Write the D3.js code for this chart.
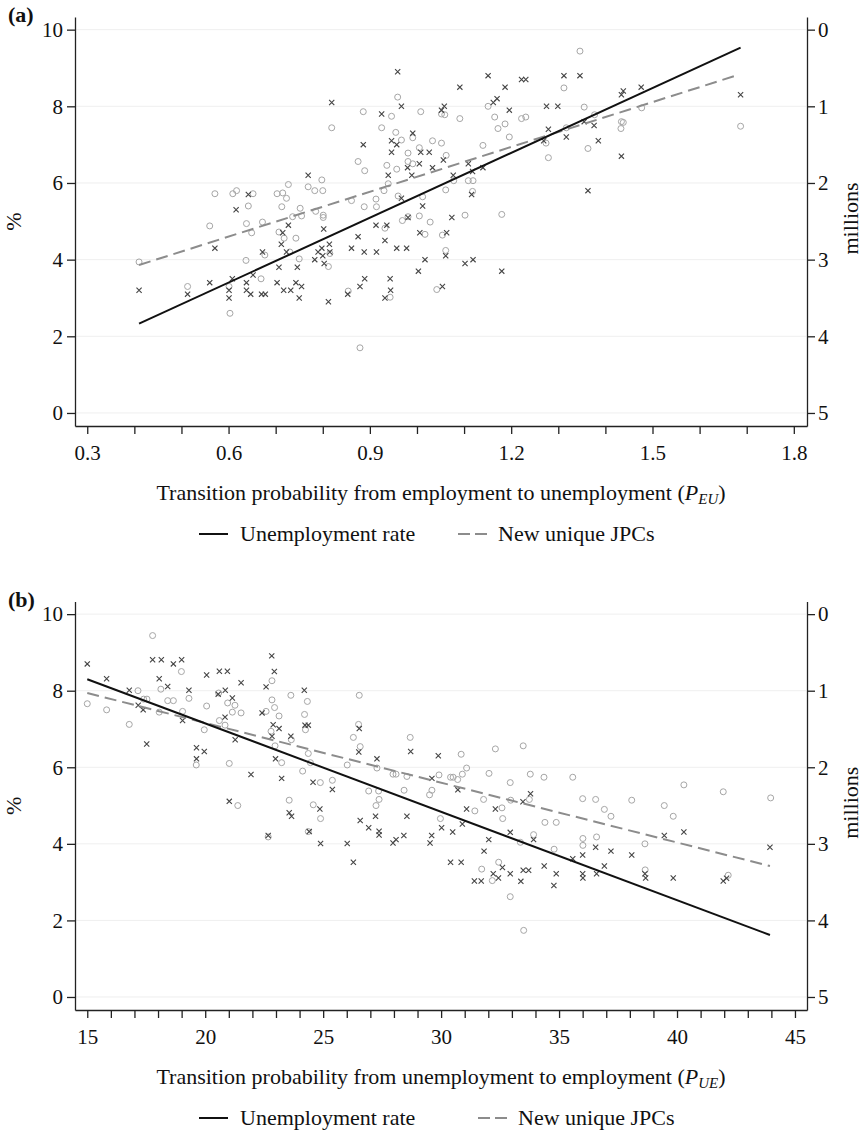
<!DOCTYPE html>
<html>
<head>
<meta charset="utf-8">
<script src="https://cdn.jsdelivr.net/npm/d3@7"></script>
<style>
  body { margin: 0; background: #fff; }
  svg text { font-family: "Liberation Serif", "Times New Roman", serif; fill: #111; }
</style>
</head>
<body>
<div class="chart"></div>
<script>
// Scatter of unemployment rate (%) and new unique JPCs (millions, inverted right axis)
// against transition probabilities, two panels

// Panel (a): x = P_EU, y = unemployment rate (%)
var aRate = [
  [0.410,3.2],[0.513,3.1],[0.560,3.4],[0.571,4.3],[0.601,3.2],[0.601,3.0],[0.608,3.5],[0.616,5.3],[0.638,3.4],[0.638,3.2],
  [0.642,5.7],[0.647,3.1],[0.652,3.6],[0.670,3.1],[0.678,3.1],[0.672,4.2],[0.703,3.4],[0.707,3.8],[0.712,4.4],[0.715,4.7],
  [0.717,3.2],[0.727,4.9],[0.732,3.2],[0.723,4.2],[0.743,3.4],[0.746,3.8],[0.750,3.0],[0.755,3.3],[0.769,6.2],[0.783,4.0],
  [0.790,4.2],[0.798,4.3],[0.800,4.1],[0.803,3.9],[0.802,4.8],[0.812,2.9],[0.814,4.4],[0.815,4.2],[0.819,8.1],[0.853,3.1],
  [0.861,4.3],[0.875,4.6],[0.879,3.3],[0.886,7.0],[0.888,4.2],[0.889,3.5],[0.913,4.9],[0.914,4.2],[0.925,7.8],[0.932,4.5],
  [0.932,3.0],[0.936,4.9],[0.939,6.2],[0.943,3.5],[0.944,3.2],[0.946,7.1],[0.946,6.8],[0.957,7.0],[0.957,4.3],[0.959,8.9],
  [0.967,8.0],[0.967,5.6],[0.978,4.3],[0.980,6.4],[0.981,5.1],[0.989,6.2],[0.991,7.3],[1.003,3.7],[1.005,6.5],[1.006,4.7],
  [1.008,6.8],[1.012,5.4],[1.017,4.0],[1.026,6.8],[1.033,6.4],[1.052,7.9],[1.054,3.3],[1.056,6.6],[1.058,8.0],[1.061,4.1],
  [1.063,4.7],[1.074,5.1],[1.077,6.2],[1.091,8.5],[1.102,3.9],[1.109,6.5],[1.116,5.7],[1.118,6.3],[1.119,4.0],[1.140,6.4],
  [1.151,8.8],[1.162,8.1],[1.170,8.2],[1.180,3.7],[1.187,8.5],[1.196,7.9],[1.222,8.7],[1.231,8.7],[1.269,7.1],[1.275,8.0],
  [1.279,7.4],[1.299,8.0],[1.312,8.8],[1.317,7.2],[1.346,8.8],[1.355,7.6],[1.363,5.8],[1.376,7.5],[1.385,7.1],[1.434,8.3],
  [1.438,8.4],[1.434,6.7],[1.476,8.5],[1.687,8.3]
];
// Panel (a): new unique JPCs (millions)
var aJpc = [
  [0.410,3.03],[0.513,3.35],[0.560,2.56],[0.571,2.14],[0.601,3.35],[0.603,3.70],[0.609,2.14],[0.617,2.10],[0.637,3.01],[0.638,2.53],
  [0.642,2.30],[0.649,2.65],[0.652,2.14],[0.669,3.25],[0.672,2.51],[0.677,2.94],[0.703,2.14],[0.707,2.64],[0.713,2.31],[0.715,2.13],
  [0.718,2.72],[0.723,2.20],[0.727,2.02],[0.730,2.90],[0.736,2.44],[0.743,2.72],[0.750,2.99],[0.752,2.33],[0.755,2.43],[0.769,2.05],
  [0.783,2.10],[0.785,2.37],[0.798,1.96],[0.800,2.10],[0.801,2.42],[0.801,2.45],[0.812,3.09],[0.815,2.92],[0.819,1.28],[0.854,3.41],
  [0.861,2.23],[0.875,1.72],[0.879,4.15],[0.886,1.07],[0.888,2.31],[0.889,1.84],[0.913,2.21],[0.914,2.31],[0.925,1.28],[0.930,2.10],
  [0.932,2.59],[0.936,1.77],[0.939,2.01],[0.943,3.49],[0.946,1.13],[0.955,1.34],[0.957,1.82],[0.959,0.88],[0.960,2.17],[0.967,1.44],
  [0.969,2.49],[0.981,1.61],[0.981,1.72],[0.981,2.44],[0.991,1.41],[0.991,1.75],[1.005,1.54],[1.005,2.43],[1.008,1.07],[1.012,2.18],
  [1.017,2.67],[1.028,2.51],[1.033,1.45],[1.042,3.39],[1.052,1.48],[1.052,1.10],[1.059,1.11],[1.054,2.68],[1.061,2.09],[1.061,2.88],
  [1.062,1.64],[1.078,1.97],[1.091,1.16],[1.102,2.42],[1.109,1.97],[1.118,2.11],[1.119,1.97],[1.140,1.51],[1.151,1.00],[1.165,1.14],
  [1.172,1.29],[1.180,2.41],[1.187,1.23],[1.196,1.40],[1.222,1.16],[1.231,1.14],[1.274,1.48],[1.279,1.67],[1.312,0.76],[1.317,1.28],
  [1.346,0.28],[1.355,1.01],[1.363,1.55],[1.377,1.11],[1.434,1.20],[1.438,1.21],[1.433,1.29],[1.477,1.02],[1.687,1.26]
];
// fitted lines, endpoints
var aRateLine = [[0.41,2.33],[1.687,9.53]];
var aJpcLine = [[0.41,3.07],[1.677,0.60]];

// Panel (b): x = P_UE
var bRate = [
  [15.00,8.70],[15.82,8.31],[16.78,8.01],[17.16,7.62],[17.37,7.50],[17.52,6.61],[17.77,8.81],[18.14,8.81],[18.05,8.31],[18.41,8.11],
  [18.65,8.70],[19.00,8.81],[19.04,7.22],[19.31,8.01],[19.63,6.51],[19.63,6.22],[19.96,6.41],[20.06,8.41],[20.55,7.91],[20.60,8.51],
  [20.94,8.51],[20.85,8.01],[20.84,7.31],[21.15,7.81],[21.27,6.72],[21.52,8.21],[21.02,5.11],[21.94,5.81],[22.41,7.42],[22.58,8.10],
  [22.82,8.91],[22.93,8.50],[22.88,7.11],[23.13,7.01],[22.83,6.81],[22.98,6.22],[23.24,5.71],[23.63,6.81],[24.20,8.01],[24.23,7.10],
  [24.37,7.10],[24.57,5.61],[24.86,4.91],[25.39,5.42],[23.56,4.81],[23.66,4.72],[22.67,4.22],[24.41,4.32],[24.89,4.01],[26.02,4.01],
  [26.28,3.52],[26.53,7.01],[26.51,6.40],[27.28,6.22],[28.71,6.41],[29.61,5.71],[29.88,6.30],[26.57,4.61],[26.93,4.42],[27.22,4.72],
  [27.37,4.33],[27.37,4.23],[27.96,4.02],[28.09,4.11],[28.42,4.22],[28.55,4.72],[29.53,4.02],[29.60,4.22],[30.02,4.42],[30.49,4.31],
  [30.40,3.52],[30.85,3.52],[30.90,4.52],[30.71,5.41],[31.08,4.91],[32.02,4.11],[31.82,3.81],[32.30,4.91],[32.21,3.22],[32.43,3.11],
  [31.41,3.03],[31.70,3.03],[33.79,5.31],[33.47,5.10],[32.93,4.30],[33.92,4.11],[32.60,3.38],[32.93,3.22],[33.38,3.02],[33.48,3.31],
  [33.71,3.31],[34.37,3.42],[34.88,3.22],[34.78,2.91],[35.58,3.61],[36.00,3.71],[36.00,3.22],[36.01,3.11],[36.55,3.91],[36.59,3.22],
  [36.92,3.42],[37.20,3.81],[38.08,3.71],[38.64,3.22],[38.67,3.11],[39.46,4.22],[39.84,3.11],[40.29,4.31],[41.96,3.03],[42.10,3.10],
  [43.94,3.91]
];
var bJpc = [
  [15.00,1.17],[15.82,1.25],[16.78,1.44],[17.15,1.00],[17.39,1.11],[17.53,1.11],[17.77,0.28],[18.05,1.28],[18.12,0.98],[18.41,1.13],
  [18.65,1.13],[18.99,0.75],[19.04,1.27],[19.31,1.10],[19.62,1.97],[19.96,1.51],[20.06,1.20],[20.57,1.03],[20.60,1.39],[20.84,1.45],
  [20.95,1.16],[21.02,1.95],[21.15,1.28],[21.26,1.19],[21.52,1.29],[21.38,2.50],[22.58,1.27],[22.79,1.53],[22.83,0.87],[22.83,1.12],
  [22.94,1.22],[22.96,1.72],[23.13,1.33],[23.24,1.94],[23.63,1.06],[23.65,1.64],[23.56,2.43],[24.13,2.05],[24.21,1.31],[24.25,1.51],
  [24.33,1.14],[24.37,1.82],[24.46,1.94],[24.58,2.49],[24.88,2.20],[24.89,2.67],[22.67,2.91],[24.37,2.84],[25.39,2.17],[26.02,1.97],
  [26.28,1.61],[26.53,1.06],[26.50,1.44],[26.57,1.73],[26.93,2.31],[27.28,2.01],[27.35,2.31],[27.37,2.42],[27.24,2.50],[27.96,2.09],
  [28.09,2.09],[28.55,2.12],[28.43,2.30],[28.69,1.61],[29.51,2.36],[29.61,2.30],[29.91,2.10],[29.97,2.67],[30.40,2.13],[30.51,2.13],
  [30.70,2.16],[30.90,2.09],[30.85,1.83],[31.08,2.01],[32.03,2.08],[32.30,1.76],[31.43,2.57],[31.80,2.42],[31.72,3.33],[32.17,3.48],
  [32.44,3.24],[33.48,1.72],[32.93,2.20],[33.78,2.09],[34.36,2.13],[35.58,2.13],[32.58,2.53],[32.95,2.43],[33.74,2.42],[32.61,2.67],
  [34.40,2.72],[34.88,2.72],[36.00,2.41],[36.55,2.42],[36.92,2.55],[37.20,2.64],[38.08,2.43],[33.92,2.88],[33.36,2.98],[34.79,3.07],
  [36.01,2.93],[36.01,3.02],[36.59,2.91],[38.64,3.00],[32.93,3.69],[33.50,4.13],[38.65,3.34],[39.84,2.64],[39.46,2.50],[40.29,2.23],
  [41.96,2.32],[42.17,3.41],[43.97,2.40]
];
var bRateLine = [[15,8.30],[43.94,1.62]];
var bJpcLine = [[15,1.03],[43.94,3.29]];

// ticks
var leftTicks = [0, 2, 4, 6, 8, 10];
var rightTicks = [0, 1, 2, 3, 4, 5];
var aTicks = [0.3, 0.6, 0.9, 1.2, 1.5, 1.8];
var aMinor = [0.3, 0.4, 0.5, 0.6, 0.7, 0.8, 0.9, 1.0, 1.1, 1.2, 1.3, 1.4, 1.5, 1.6, 1.7, 1.8];
var bTicks = [15, 20, 25, 30, 35, 40, 45];
var bMinor = [15,16,17,18,19,20,21,22,23,24,25,26,27,28,29,30,31,32,33,34,35,36,37,38,39,40,41,42,43,44,45];

var svgwidth = 868;
var svgheight = 1133;
var plotLeft = 75, plotRight = 807;

var svg = d3.select(".chart")
  .append("svg")
  .attr("width", svgwidth)
  .attr("height", svgheight);

function drawPanel(p) {
  var g = svg.append("g");

  var x = d3.scaleLinear().domain(p.xDomain).range([plotLeft, plotRight]);
  var y = d3.scaleLinear().domain([-0.34, 10.33]).range([p.bottom, p.top]);
  // right axis: millions, 0 at top (=10 %), 5 at bottom (=0 %)
  var yR = d3.scaleLinear().domain([(10 + 0.34) / 2, (10 - 10.33) / 2]).range([p.bottom, p.top]);

  // faint gridlines
  g.selectAll(".grid")
    .data(leftTicks)
    .enter()
    .append("line")
    .attr("x1", plotLeft + 1)
    .attr("x2", plotRight - 1)
    .attr("y1", d => y(d))
    .attr("y2", d => y(d))
    .attr("stroke", "#efefef")
    .attr("stroke-width", 1);

  // circles = new unique JPCs
  g.selectAll(".jpc")
    .data(p.jpc)
    .enter()
    .append("circle")
    .attr("cx", d => x(d[0]))
    .attr("cy", d => yR(d[1]))
    .attr("r", 3)
    .attr("fill", "none")
    .attr("stroke", "#a6a6a6")
    .attr("stroke-width", 1);

  // crosses = unemployment rate
  g.selectAll(".rate")
    .data(p.rate)
    .enter()
    .append("path")
    .attr("transform", d => `translate(${x(d[0])},${y(d[1])})`)
    .attr("d", "M-2.6,-2.6L2.6,2.6M-2.6,2.6L2.6,-2.6")
    .attr("stroke", "#444")
    .attr("stroke-width", 1.1);

  // fitted lines
  g.append("path")
    .datum(p.jpcLine)
    .attr("d", d3.line().x(d => x(d[0])).y(d => yR(d[1])))
    .attr("fill", "none")
    .attr("stroke", "#8c8c8c")
    .attr("stroke-width", 2)
    .attr("stroke-dasharray", "12,6");

  g.append("path")
    .datum(p.rateLine)
    .attr("d", d3.line().x(d => x(d[0])).y(d => y(d[1])))
    .attr("fill", "none")
    .attr("stroke", "#111")
    .attr("stroke-width", 2);

  // axes
  var leftAxis = d3.axisLeft(y).tickValues(leftTicks).tickSize(8).tickSizeOuter(0).tickPadding(4)
    .tickFormat(d3.format("d"));
  var rightAxis = d3.axisRight(yR).tickValues(rightTicks).tickSize(8).tickSizeOuter(0).tickPadding(3)
    .tickFormat(d3.format("d"));
  var bottomAxis = d3.axisBottom(x).tickValues(p.minor).tickSize(8).tickSizeOuter(0).tickPadding(11)
    .tickFormat(d => p.major.some(m => Math.abs(m - d) < 1e-6) ? d3.format(p.fmt)(d) : "");

  var axes = [
    g.append("g").attr("transform", `translate(${plotLeft},0)`).call(leftAxis),
    g.append("g").attr("transform", `translate(${plotRight},0)`).call(rightAxis),
    g.append("g").attr("transform", `translate(0,${p.bottom})`).call(bottomAxis)
  ];
  axes.forEach(function(a) {
    a.selectAll("path, line").attr("stroke", "#222").attr("stroke-width", 1.3);
    a.selectAll("text").attr("font-size", "21px").attr("fill", "#111")
      .attr("font-family", '"Liberation Serif", "Times New Roman", serif');
  });

  // panel letter
  g.append("text")
    .attr("x", 8)
    .attr("y", p.top + 5)
    .attr("font-size", "22px")
    .attr("font-weight", "bold")
    .text(p.letter);

  var midY = (p.top + p.bottom) / 2;
  g.append("text")
    .attr("transform", `translate(21,${midY}) rotate(-90)`)
    .attr("text-anchor", "middle")
    .attr("font-size", "22px")
    .text("%");

  g.append("text")
    .attr("transform", `translate(858,${midY - 3}) rotate(-90)`)
    .attr("text-anchor", "middle")
    .attr("font-size", "22px")
    .text("millions");

  // x title
  var title = g.append("text")
    .attr("x", 441)
    .attr("y", p.bottom + 74)
    .attr("text-anchor", "middle")
    .attr("font-size", "22px");
  title.append("tspan").text(p.xTitle + " (");
  title.append("tspan").attr("font-style", "italic").text("P");
  title.append("tspan").attr("font-style", "italic").attr("font-size", "15px").attr("dy", 4).text(p.sub);
  title.append("tspan").attr("dy", -4).text(")");

  // legend
  var ly = p.bottom + 108;
  g.append("line")
    .attr("x1", 199).attr("x2", 228)
    .attr("y1", ly).attr("y2", ly)
    .attr("stroke", "#111").attr("stroke-width", 2);
  g.append("text")
    .attr("x", 240).attr("y", ly + 7)
    .attr("font-size", "22px")
    .text("Unemployment rate");
  g.append("line")
    .attr("x1", p.dashX).attr("x2", p.dashX + 29)
    .attr("y1", ly).attr("y2", ly)
    .attr("stroke", "#8c8c8c").attr("stroke-width", 2)
    .attr("stroke-dasharray", "12,5");
  g.append("text")
    .attr("x", p.dashX + 40).attr("y", ly + 7)
    .attr("font-size", "22px")
    .text("New unique JPCs");
}

drawPanel({
  letter: "(a)", top: 17, bottom: 426,
  xDomain: [0.274, 1.828], minor: aMinor, major: aTicks, fmt: ".1f",
  rate: aRate, jpc: aJpc, rateLine: aRateLine, jpcLine: aJpcLine,
  xTitle: "Transition probability from employment to unemployment", sub: "EU",
  dashX: 458
});

drawPanel({
  letter: "(b)", top: 601.5, bottom: 1010,
  xDomain: [14.48, 45.51], minor: bMinor, major: bTicks, fmt: "d",
  rate: bRate, jpc: bJpc, rateLine: bRateLine, jpcLine: bJpcLine,
  xTitle: "Transition probability from unemployment to employment", sub: "UE",
  dashX: 478
});
</script>
</body>
</html>
